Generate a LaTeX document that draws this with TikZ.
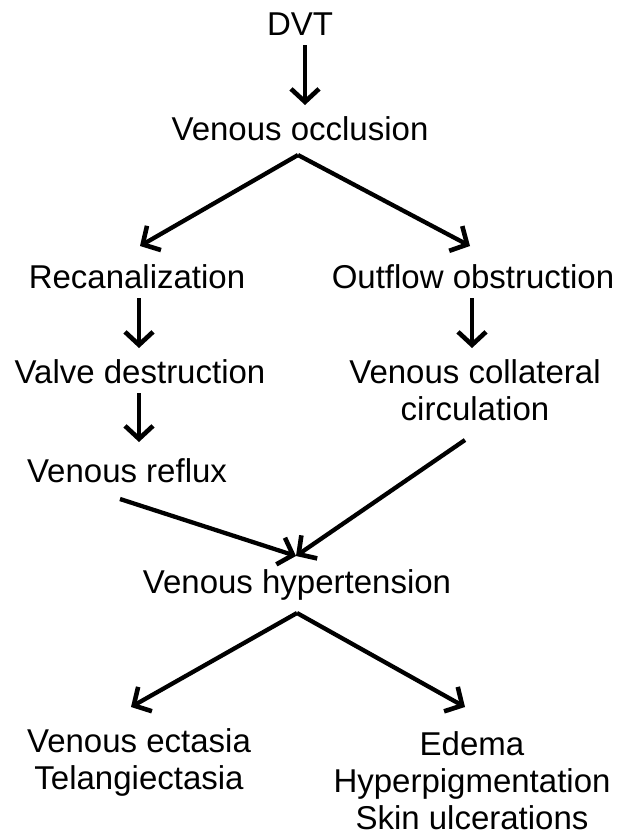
\documentclass[tikz,border=0pt]{standalone}
\usepackage{fontspec}
\setmainfont{Liberation Sans}
\usetikzlibrary{arrows.meta}
\begin{document}
\begin{tikzpicture}[x=1pt,y=-1pt,
  lbl/.style={inner sep=0pt,align=center,font=\fontsize{33}{37}\selectfont},
  arr/.style={line width=4.3pt,-{Straight Barb[length=13pt,width=28pt,line width=4.6pt]}}]
\useasboundingbox (0,0) rectangle (619,838);
\node[lbl] (dvt) at (300,24) {DVT};
\node[lbl] (occ) at (300,129) {Venous occlusion};
\node[lbl] (rec) at (137,277) {Recanalization};
\node[lbl] (out) at (473,277) {Outflow obstruction};
\node[lbl] (val) at (140,372) {Valve destruction};
\node[lbl] (col) at (475,390) {Venous collateral\\circulation};
\node[lbl] (ref) at (127,471) {Venous reflux};
\node[lbl] (hyp) at (297,585) {Venous hypertension};
\node[lbl] (ect) at (139,762) {Venous ectasia\\Telangiectasia};
\node[lbl] (ede) at (472,781) {Edema\\Hyperpigmentation\\Skin ulcerations};
% connector end points, just below / above the named nodes
\coordinate (dvtS) at (305,45);   \coordinate (occN) at (305,105);
\coordinate (occS) at (298,155);
\coordinate (recN) at (140,246);  \coordinate (outN) at (470,246);
\coordinate (recS) at (139,298);  \coordinate (valN) at (139,348);
\coordinate (outS) at (472,298);  \coordinate (colN) at (472,348);
\coordinate (valS) at (139,393);  \coordinate (refN) at (139,442);
\coordinate (refS) at (120,499);  \coordinate (colS) at (465,440);
\coordinate (hypN) at (296,556);
\coordinate (hypS) at (297,613);
\coordinate (ectN) at (131,707);  \coordinate (edeN) at (465,707);
\draw[arr] (dvtS) -- (occN);
\draw[arr] (occS) -- (recN);
\draw[arr] (occS) -- (outN);
\draw[arr] (recS) -- (valN);
\draw[arr] (outS) -- (colN);
\draw[arr] (valS) -- (refN);
\draw[arr] (refS) -- (hypN);
\draw[arr] (colS) -- (hypN);
\draw[arr] (hypS) -- (ectN);
\draw[arr] (hypS) -- (edeN);
\end{tikzpicture}
\end{document}
